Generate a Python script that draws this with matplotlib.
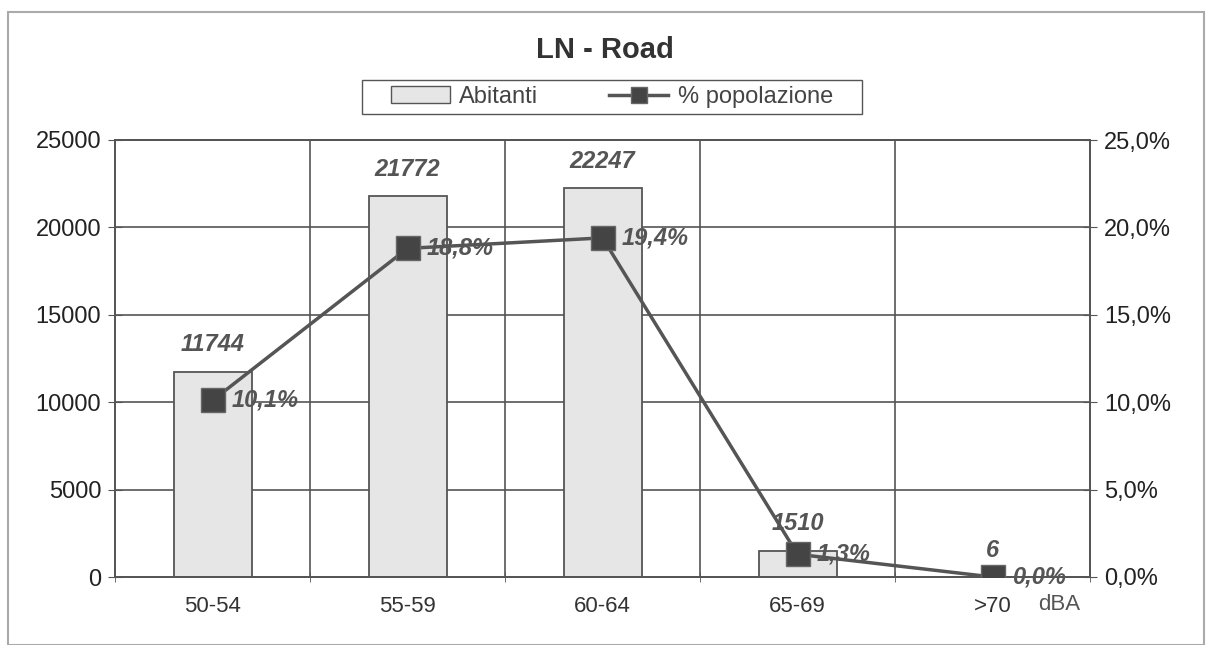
# LN - Road: abitanti per fascia di rumore (barre) e % popolazione (linea)
import matplotlib.pyplot as plt
from matplotlib.patches import Rectangle
from matplotlib.lines import Line2D
from matplotlib.ticker import FuncFormatter

# data
categories = ["50-54", "55-59", "60-64", "65-69", ">70"]
abitanti = [11744, 21772, 22247, 1510, 6]
percentuale = [10.1, 18.8, 19.4, 1.3, 0.0]
pct_labels = ["10,1%", "18,8%", "19,4%", "1,3%", "0,0%"]

plt.rcParams['font.family'] = ['Liberation Sans', 'DejaVu Sans']
grey = '#555555'

fig = plt.figure(figsize=(12.11, 6.45), dpi=100)
ax = fig.add_axes([115 / 1211, 1 - 577 / 645, 975 / 1211, 437 / 645])
ax2 = ax.twinx()

x = list(range(len(categories)))
ax.bar(x, abitanti, width=0.4, color='#e6e6e6', edgecolor=grey, linewidth=1.3, zorder=2)
ax.set_xlim(-0.5, len(categories) - 0.5)
ax.set_ylim(0, 25000)
ax.set_yticks(range(0, 25001, 5000))

# grid: horizontal every 5000, vertical at category boundaries
for yv in range(5000, 25001, 5000):
    ax.axhline(yv, color=grey, lw=1.2, zorder=1)
for b in range(len(categories)):
    ax.axvline(b + 0.5, color=grey, lw=1.2, zorder=1)

ax.set_xticks(x)
ax.set_xticklabels(categories, fontsize=16, color='#333333')
ax.set_xticks([b - 0.5 for b in range(len(categories) + 1)], minor=True)
ax.tick_params(axis='x', which='major', length=0, pad=14)
ax.tick_params(axis='x', which='minor', length=7, direction='inout', color=grey)
ax.tick_params(axis='y', length=10, direction='inout', color=grey, labelsize=17,
               labelcolor='#222222', pad=5)

for xi, v in zip(x, abitanti):
    ax.annotate(str(v), (xi, v), xytext=(0, 11), textcoords='offset points',
                ha='center', va='bottom', fontsize=17, fontweight='bold',
                style='italic', color=grey)

ax2.plot(x, percentuale, color=grey, lw=2.5, marker='s', markersize=17,
         markerfacecolor='#444444', markeredgecolor='#666666', zorder=5)
ax2.set_ylim(0, 25)
ax2.set_yticks(range(0, 26, 5))
ax2.yaxis.set_major_formatter(FuncFormatter(lambda v, p: f"{v:.1f}".replace('.', ',') + "%"))
ax2.tick_params(axis='y', length=10, direction='inout', color=grey, labelsize=17,
                labelcolor='#222222', pad=5)
for xi, v, lab in zip(x, percentuale, pct_labels):
    ax2.annotate(lab, (xi, v), xytext=(14, 0), textcoords='offset points',
                 ha='left', va='center', fontsize=17, fontweight='bold',
                 style='italic', color=grey)

for a in (ax, ax2):
    for s in a.spines.values():
        s.set_color(grey)
        s.set_linewidth(1.3)
ax.set_zorder(ax2.get_zorder() - 1)
ax2.patch.set_visible(False)

fig.text(1059 / 1211, 1 - 605 / 645, "dBA", fontsize=16, color=grey, ha='center', va='center')
fig.text(605 / 1211, 1 - 50 / 645, "LN - Road", fontsize=21, fontweight='bold',
         color='#333333', ha='center', va='center')

handles = [Rectangle((0, 0), 1, 1, facecolor='#e6e6e6', edgecolor=grey),
           Line2D([], [], color=grey, lw=2.5, marker='s', markersize=11,
                  markerfacecolor='#444444', markeredgecolor='#666666')]
leg = fig.legend(handles, ["Abitanti", "% popolazione"], ncol=2,
                 loc='center', bbox_to_anchor=(612 / 1211, 1 - 97 / 645),
                 frameon=False, fontsize=17, columnspacing=3.0,
                 handlelength=2.5, handletextpad=0.4, labelcolor='#444444')

# legend box drawn separately, wider than the entries like the original
fig.patches.append(Rectangle((362 / 1211, 1 - 114 / 645), 500 / 1211, 34 / 645,
                             transform=fig.transFigure, fill=False,
                             edgecolor=grey, lw=1.0))

# outer chart frame
fig.patches.append(Rectangle((8 / 1211, 0.0), 1196 / 1211, 1 - 12 / 645,
                             transform=fig.transFigure, fill=False,
                             edgecolor='#aaaaaa', lw=1.5))

fig.savefig("out.png", dpi=100)
